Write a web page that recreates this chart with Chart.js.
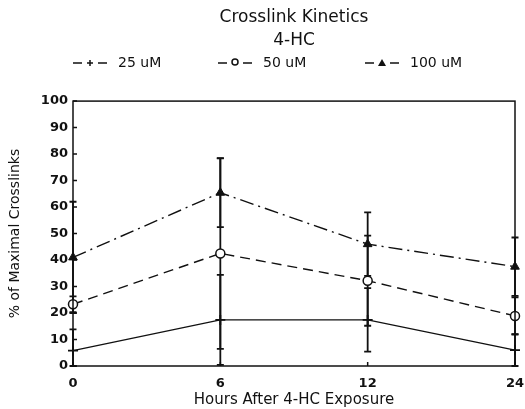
<!DOCTYPE html>
<html>
<head>
<meta charset="utf-8">
<title>Crosslink Kinetics</title>
<script src="https://cdn.jsdelivr.net/npm/chart.js@4.4.0/dist/chart.umd.min.js"></script>
<style>
  html, body { margin: 0; padding: 0; background: #fff; }
  #wrap { width: 525px; height: 409px; position: relative; }
</style>
</head>
<body>
<div id="wrap"><canvas id="kineticsChart"></canvas></div>
<script>
// Hours after exposure (plotted as evenly spaced categories)
const hours = ["0", "6", "12", "24"];

// % of maximal crosslinks for each 4-HC dose
const uM25 = [5.8, 17.4, 17.4, 6];
const uM50 = [23.3, 42.5, 32.2, 18.9];
const uM100 = [41, 65.4, 46, 37.5];

// error bar half-widths
const err25 = [8, 17, 12, 6];
const err50 = [3, 36, 17, 7];
const err100 = [21, 13, 12, 11];

const yTicks = [0, 10, 20, 30, 40, 50, 60, 70, 80, 90, 100];

const ink = "#111";

// vertical error bars with small caps, drawn under the markers
const errorBars = {
    id: "errorBars",
    beforeDatasetsDraw(chart) {
        const ctx = chart.ctx;
        const y = chart.scales.y;
        ctx.save();
        ctx.strokeStyle = ink;
        ctx.lineWidth = 1.8;
        ctx.setLineDash([]);
        chart.data.datasets.forEach((ds, i) => {
            const meta = chart.getDatasetMeta(i);
            ds.data.forEach((v, j) => {
                const e = ds.errors[j];
                const px = meta.data[j].x;
                const top = y.getPixelForValue(Math.min(100, v + e));
                const bot = y.getPixelForValue(Math.max(0, v - e));
                ctx.beginPath();
                ctx.moveTo(px, top);
                ctx.lineTo(px, bot);
                ctx.moveTo(px - 3.5, top);
                ctx.lineTo(px + 3.5, top);
                ctx.moveTo(px - 3.5, bot);
                ctx.lineTo(px + 3.5, bot);
                ctx.stroke();
            });
        });
        ctx.restore();
    }
};

// plot frame with inward tick marks
const frame = {
    id: "frame",
    afterDraw(chart) {
        const ctx = chart.ctx;
        const a = chart.chartArea;
        const x = chart.scales.x;
        const y = chart.scales.y;
        ctx.save();
        ctx.strokeStyle = ink;
        ctx.lineWidth = 1.5;
        ctx.setLineDash([]);
        ctx.strokeRect(a.left, a.top, a.right - a.left, a.bottom - a.top);
        ctx.beginPath();
        yTicks.forEach(t => {
            const py = y.getPixelForValue(t);
            ctx.moveTo(a.left, py);
            ctx.lineTo(a.left + 4, py);
        });
        hours.forEach((h, i) => {
            const px = x.getPixelForValue(i);
            ctx.moveTo(px, a.bottom);
            ctx.lineTo(px, a.bottom - 4);
        });
        ctx.stroke();
        ctx.restore();
    }
};

// legend row: dash, marker, dash, then the dose
const doseLegend = {
    id: "doseLegend",
    afterDraw(chart) {
        const ctx = chart.ctx;
        const cy = 63;
        const starts = [73, 218, 365];
        ctx.save();
        ctx.strokeStyle = ink;
        ctx.fillStyle = ink;
        ctx.lineWidth = 1.5;
        ctx.font = "14px 'DejaVu Sans'";
        ctx.textBaseline = "middle";
        chart.data.datasets.forEach((ds, i) => {
            const x0 = starts[i];
            ctx.beginPath();
            ctx.moveTo(x0, cy);
            ctx.lineTo(x0 + 9, cy);
            ctx.moveTo(x0 + 25, cy);
            ctx.lineTo(x0 + 34, cy);
            ctx.stroke();
            const mx = x0 + 17;
            ctx.beginPath();
            if (ds.pointStyle === "cross") {
                ctx.moveTo(mx - 3, cy);
                ctx.lineTo(mx + 3, cy);
                ctx.moveTo(mx, cy - 3);
                ctx.lineTo(mx, cy + 3);
                ctx.stroke();
            } else if (ds.pointStyle === "circle") {
                ctx.arc(mx, cy - 1, 3, 0, Math.PI * 2);
                ctx.stroke();
            } else {
                ctx.moveTo(mx, cy - 4);
                ctx.lineTo(mx + 4, cy + 3);
                ctx.lineTo(mx - 4, cy + 3);
                ctx.closePath();
                ctx.fill();
            }
            ctx.fillText(ds.label, x0 + 45, cy);
        });
        ctx.restore();
    }
};

const ctx = document.getElementById("kineticsChart").getContext("2d");

new Chart(ctx, {
    type: "line",
    data: {
        labels: hours,
        datasets: [
            {
                label: "25 uM",
                data: uM25,
                errors: err25,
                borderColor: ink,
                borderWidth: 1.4,
                pointStyle: "cross",
                pointRadius: 5,
                pointBorderWidth: 1.8,
                pointBorderColor: ink,
                tension: 0
            },
            {
                label: "50 uM",
                data: uM50,
                errors: err50,
                borderColor: ink,
                borderWidth: 1.4,
                borderDash: [10, 6],
                pointStyle: "circle",
                pointRadius: 4.5,
                pointBorderWidth: 1.5,
                pointBorderColor: ink,
                pointBackgroundColor: "#fff",
                tension: 0
            },
            {
                label: "100 uM",
                data: uM100,
                errors: err100,
                borderColor: ink,
                borderWidth: 1.4,
                borderDash: [14, 5, 2, 5],
                pointStyle: "triangle",
                pointRadius: 5,
                pointBorderWidth: 1,
                pointBorderColor: ink,
                pointBackgroundColor: ink,
                tension: 0
            }
        ]
    },
    options: {
        responsive: true,
        maintainAspectRatio: false,
        animation: false,
        layout: { padding: { top: 0, right: 10, bottom: 0, left: 0 } },
        plugins: {
            legend: { display: false },
            tooltip: { enabled: false },
            title: {
                display: true,
                text: "Crosslink Kinetics",
                fullSize: false,
                color: ink,
                font: { family: "DejaVu Sans", size: 17, weight: "normal", lineHeight: 1.15 },
                padding: { top: 8, bottom: 3 }
            },
            subtitle: {
                display: true,
                text: "4-HC",
                fullSize: false,
                color: ink,
                font: { family: "DejaVu Sans", size: 17, weight: "normal", lineHeight: 1.15 },
                padding: { top: 0, bottom: 51 }
            }
        },
        scales: {
            x: {
                type: "category",
                offset: false,
                grid: { display: false, drawTicks: false },
                border: { display: false },
                ticks: {
                    color: ink,
                    padding: 10,
                    maxRotation: 0,
                    font: { family: "DejaVu Sans", size: 13, weight: "bold" }
                },
                title: {
                    display: true,
                    text: "Hours After 4-HC Exposure",
                    color: ink,
                    padding: { top: 1, bottom: 0 },
                    font: { family: "DejaVu Sans", size: 15 }
                },
                afterFit(scale) {
                    scale.height = 43;
                    scale.paddingLeft = 0;
                    scale.paddingRight = 0;
                }
            },
            y: {
                min: 0,
                max: 100,
                grid: { display: false, drawTicks: false },
                border: { display: false },
                ticks: {
                    stepSize: 10,
                    color: ink,
                    padding: 5,
                    font: { family: "DejaVu Sans", size: 13, weight: "bold" }
                },
                title: {
                    display: true,
                    text: "% of Maximal Crosslinks",
                    color: ink,
                    padding: { top: 7, bottom: 4 },
                    font: { family: "DejaVu Sans", size: 14 }
                },
                afterFit(scale) { scale.width = 73; }
            }
        }
    },
    plugins: [errorBars, frame, doseLegend]
});
</script>
</body>
</html>
